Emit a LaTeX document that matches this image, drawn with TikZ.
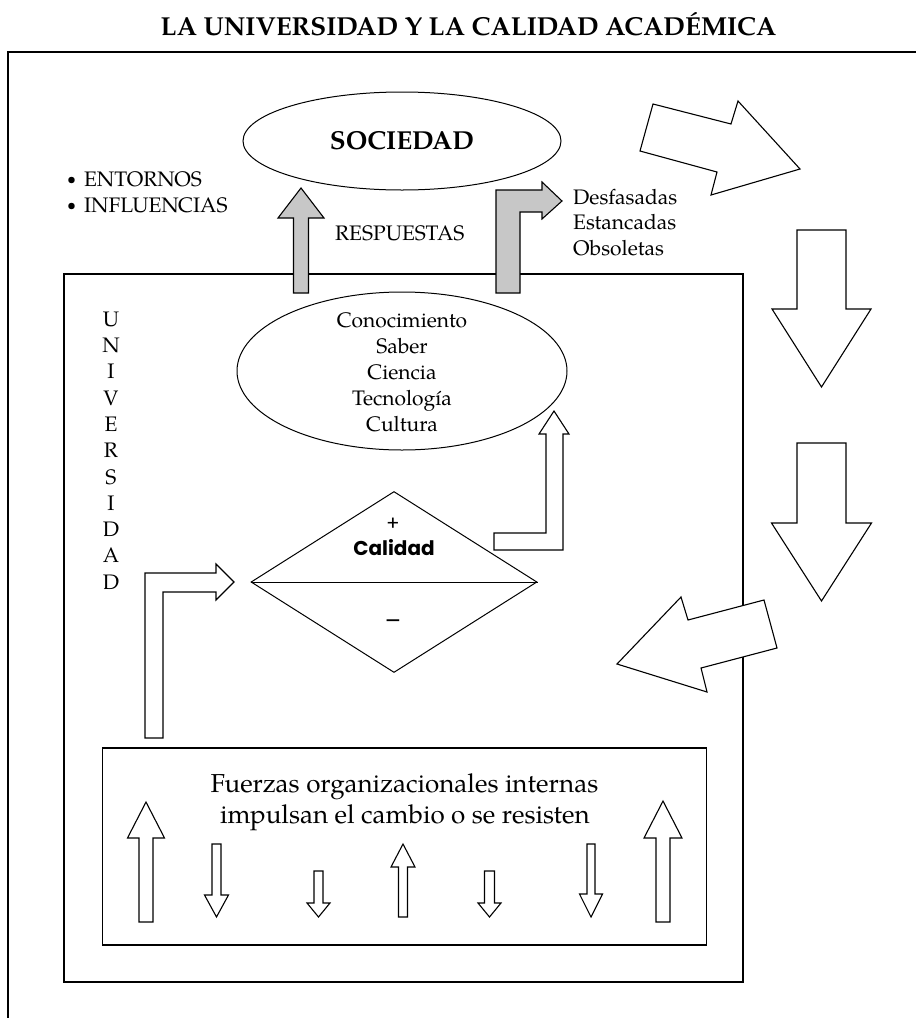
\documentclass[tikz,border=0pt]{standalone}
\usepackage{fontspec}
\setmainfont{TeX Gyre Pagella}
\newfontfamily\gothicfont{Poppins}
\usetikzlibrary{shapes.geometric}

\begin{document}
\begin{tikzpicture}[
    x=1pt, y=-1pt,
    frame/.style={draw=black, line width=1.3pt},
    oval/.style={ellipse, draw=black, line width=1pt, inner sep=0pt},
    blockarrow/.style={draw=black, line width=1.1pt, fill=white, line join=miter},
    grayarrow/.style={blockarrow, fill=black!22},
    caption/.style={inner sep=0pt, font=\fontsize{21}{26}\selectfont},
    heading/.style={inner sep=0pt, font=\fontsize{26}{31}\selectfont\bfseries},
    quality/.style={inner sep=0pt, font=\gothicfont\fontsize{20}{24}\selectfont}
]

    \useasboundingbox (0,0) rectangle (916,1018);

    % --- FRAMES ---
    \draw[frame] (8,1018) -- (8,52) -- (916,52);
    \draw[frame] (64,274) rectangle (743,982);
    \node[frame, inner sep=0pt, minimum width=603.5pt, minimum height=197pt] (fuerzas) at (404.5,846.5) {};

    % --- TITLE ---
    \node[heading, anchor=base] (title) at (468.5,35) {LA UNIVERSIDAD Y LA CALIDAD ACADÉMICA};

    % --- SOCIEDAD ---
    \node[oval, minimum width=318pt, minimum height=98pt, font=\fontsize{26}{31}\selectfont\bfseries] (sociedad) at (402,141) {SOCIEDAD};
    \node[caption, anchor=base west] (entornos) at (67,186) {\raisebox{2pt}{\fontsize{16}{16}\selectfont\textbullet}\hspace{8pt}ENTORNOS};
    \node[caption, anchor=base west] (influencias) at (67,212) {\raisebox{2pt}{\fontsize{16}{16}\selectfont\textbullet}\hspace{8pt}INFLUENCIAS};
    \node[caption, anchor=base west] (respuestas) at (335,240) {RESPUESTAS};
    \node[caption, anchor=north west, align=left, font=\fontsize{21}{25.5}\selectfont] (estado) at (573,189) {Desfasadas\\Estancadas\\Obsoletas};

    % --- UNIVERSIDAD ---
    \node[caption, anchor=north, align=center, font=\fontsize{21}{26.3}\selectfont] (universidad) at (111,311.5) {U\\N\\I\\V\\E\\R\\S\\I\\D\\A\\D};
    \node[oval, minimum width=330pt, minimum height=158pt] (saber) at (402,371) {};
    \node[caption, anchor=north, align=center] (saberes) at (402,312) {Conocimiento\\Saber\\Ciencia\\Tecnología\\Cultura};

    % --- CALIDAD ---
    \node[diamond, draw=black, line width=1pt, inner sep=0pt, minimum width=286pt, minimum height=181pt] (calidad) at (394,582) {};
    \draw[line width=1pt] (calidad.west) -- (calidad.east);
    \node[quality] (mas) at (393,524) {+};
    \node[quality, anchor=base, font=\gothicfont\bfseries\fontsize{20}{24}\selectfont] (calidadtxt) at (394,555) {Calidad};
    \node[quality, font=\gothicfont\fontsize{24}{24}\selectfont] (menos) at (393,625) {–};

    \node[caption, anchor=base] (fuerzas1) at (404.5,792) {\fontsize{26}{31}\selectfont Fuerzas organizacionales internas};
    \node[caption, anchor=base] (fuerzas2) at (405,823) {\fontsize{26}{31}\selectfont impulsan el cambio o se resisten};

    % --- RESPONSES (gray) ---
    \draw[grayarrow] (293.5,293) -- (293.5,218) -- (278,218) -- (301,188) -- (324,218) -- (308.5,218) -- (308.5,293) -- cycle;
    \draw[grayarrow] (496,293) -- (496,190) -- (542,190) -- (542,182) -- (562,201) -- (542,219) -- (542,212) -- (520,212) -- (520,293) -- cycle;

    % --- INNER FLOW ---
    \draw[blockarrow] (145,738) -- (145,573) -- (216,573) -- (216,564) -- (234,582) -- (216,600) -- (216,592) -- (163,592) -- (163,738) -- cycle;
    \draw[blockarrow] (494,533) -- (546,533) -- (546,434) -- (539,434) -- (554,411) -- (569,434) -- (563,434) -- (563,550) -- (494,550) -- cycle;

    % --- OUTER CYCLE ---
    \draw[blockarrow] (653,104) -- (731,124) -- (738,101) -- (800,169) -- (711,195) -- (717,172) -- (640,151) -- cycle;
    \draw[blockarrow] (764,600) -- (688,620) -- (681,597) -- (617,664) -- (707,692) -- (701,668) -- (777,648) -- cycle;

    % vertical arrows: x / tail / tip / shaft half / head half / head base
    \foreach \ax/\ya/\yb/\s/\h/\yh in {821.5/230/387/24.5/49.5/309, 821.5/443/601/24.5/50/523,
        146/922/802/7/18.5/838, 216.5/844/917/4.5/12/895, 318.5/871/917/4.5/11.5/903,
        403/917/844/4.5/12/867, 489.5/871/917/5/11.5/903, 591/844/917/4/11.5/894, 663/922/801/7/19/838}
        \draw[blockarrow] (\ax-\s,\ya) -- (\ax-\s,\yh) -- (\ax-\h,\yh) -- (\ax,\yb) -- (\ax+\h,\yh) -- (\ax+\s,\yh) -- (\ax+\s,\ya) -- cycle;

\end{tikzpicture}
\end{document}
